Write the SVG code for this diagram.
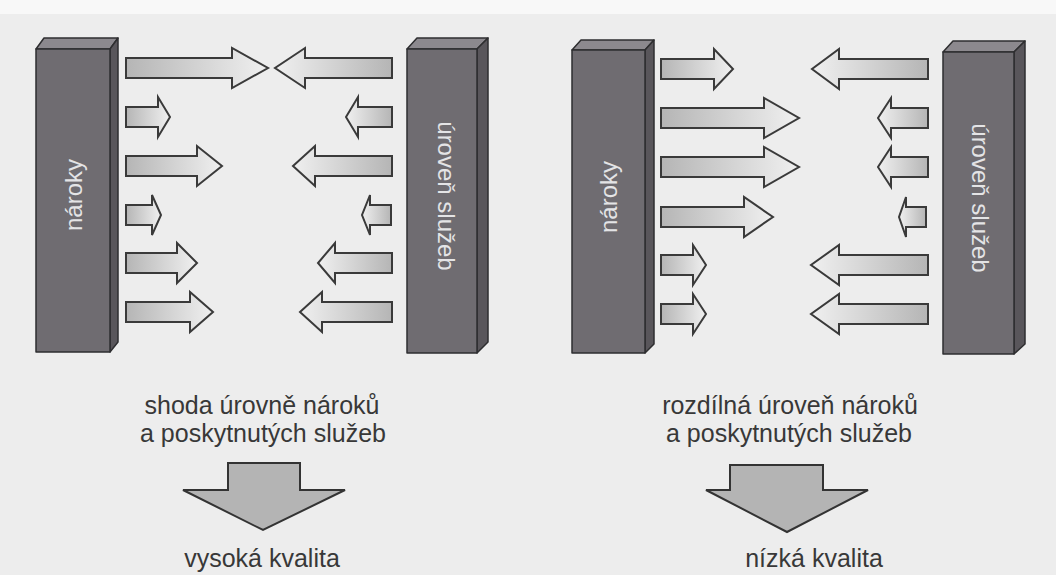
<svg xmlns="http://www.w3.org/2000/svg" width="1056" height="575" viewBox="0 0 1056 575">
<style>
.front{fill:#6f6c71;stroke:#2e2e30;stroke-width:1.5;stroke-linejoin:round}
.top{fill:#8c898e;stroke:#2e2e30;stroke-width:1.5;stroke-linejoin:round}
.side{fill:#59565b;stroke:#2e2e30;stroke-width:1.5;stroke-linejoin:round}
.ptxt{font-family:"Liberation Sans",Arial,sans-serif;font-size:24px;fill:#e4e4e6;text-anchor:middle}
.ar{fill:url(#gr);stroke:#3a3a3a;stroke-width:2;stroke-linejoin:miter}
.al{fill:url(#gl);stroke:#3a3a3a;stroke-width:2;stroke-linejoin:miter}
.down{fill:#b4b4b4;stroke:#333;stroke-width:2;stroke-linejoin:miter}
.lbl{font-family:"Liberation Sans",Arial,sans-serif;font-size:25px;fill:#383838;text-anchor:middle}
</style>
<defs>
<linearGradient id="gr" x1="0" y1="0" x2="1" y2="0"><stop offset="0" stop-color="#b5b5b5"/><stop offset="1" stop-color="#f0f0f0"/></linearGradient>
<linearGradient id="gl" x1="1" y1="0" x2="0" y2="0"><stop offset="0" stop-color="#b5b5b5"/><stop offset="1" stop-color="#f0f0f0"/></linearGradient>
</defs>
<rect x="0" y="0" width="1056" height="575" fill="#ededed"/>
<rect x="0" y="0" width="1056" height="14" fill="#f8f8f8"/>

<g id="left-naroky">
<polygon class="top" points="36,49 44,38 118,38 110,49"/>
<polygon class="side" points="110,49 118,38 118,342 110,352"/>
<rect class="front" x="36" y="49" width="74" height="303"/>
<text class="ptxt" transform="translate(82,195) rotate(-90)">nároky</text>
</g>
<g id="left-uroven">
<polygon class="top" points="407,49 417,38 488,38 477,49"/>
<polygon class="side" points="477,49 488,38 488,342 477,353"/>
<rect class="front" x="407" y="49" width="70" height="304"/>
<text class="ptxt" transform="translate(438,196) rotate(90)">úroveň služeb</text>
</g>
<g id="right-naroky">
<polygon class="top" points="572,50 581,40 654,40 645,50"/>
<polygon class="side" points="645,50 654,40 654,344 645,353"/>
<rect class="front" x="572" y="50" width="73" height="303"/>
<text class="ptxt" transform="translate(617,197) rotate(-90)">nároky</text>
</g>
<g id="right-uroven">
<polygon class="top" points="943,52 953,41 1025,41 1014,52"/>
<polygon class="side" points="1014,52 1025,41 1025,344 1014,354"/>
<rect class="front" x="943" y="52" width="71" height="302"/>
<text class="ptxt" transform="translate(972,198) rotate(90)">úroveň služeb</text>
</g>

<g id="connectors">
<path class="ar" d="M126,58H232V48L268,68L232,88V78H126Z"/>
<path class="al" d="M392,58H305V48L275,68L305,88V78H392Z"/>
<path class="ar" d="M126,107H158V97L170,117L158,137V127H126Z"/>
<path class="al" d="M392,107H358V97L346,117L358,137V127H392Z"/>
<path class="ar" d="M126,156H197V146L222,166L197,186V176H126Z"/>
<path class="al" d="M392,156H315V146L293,166L315,186V176H392Z"/>
<path class="ar" d="M126,205H152V195L161,215L152,235V225H126Z"/>
<path class="al" d="M391,205H370V195L362,215L370,235V225H391Z"/>
<path class="ar" d="M126,253H177V243L197,263L177,283V273H126Z"/>
<path class="al" d="M392,253H335V243L318,263L335,283V273H392Z"/>
<path class="ar" d="M126,302H190V292L213,312L190,332V322H126Z"/>
<path class="al" d="M392,302H322V292L300,312L322,332V322H392Z"/>

<path class="ar" d="M661,59H714V49L733,69L714,89V79H661Z"/>
<path class="al" d="M928,59H839V49L812,69L839,89V79H928Z"/>
<path class="ar" d="M661,108H764V98L799,118L764,138V128H661Z"/>
<path class="al" d="M928,108H891V98L878,118L891,138V128H928Z"/>
<path class="ar" d="M661,157H764V147L799,167L764,187V177H661Z"/>
<path class="al" d="M928,157H891V147L878,167L891,187V177H928Z"/>
<path class="ar" d="M661,207H744V197L773,217L744,237V227H661Z"/>
<path class="al" d="M926,207H906V197L899,217L906,237V227H926Z"/>
<path class="ar" d="M661,255H693V245L706,265L693,285V275H661Z"/>
<path class="al" d="M928,255H839V245L811,265L839,285V275H928Z"/>
<path class="ar" d="M661,304H693V294L706,314L693,334V324H661Z"/>
<path class="al" d="M928,304H839V294L811,314L839,334V324H928Z"/>

<path class="down" d="M228,463H300V490H345L263,530L183,490H228Z"/>
<path class="down" d="M730,465H823V490H868L787,532L706,490H730Z"/>
</g>

<g id="left-caption">
<text class="lbl" x="262" y="414">shoda úrovně nároků</text>
<text class="lbl" x="263" y="442">a poskytnutých služeb</text>
<text class="lbl" x="262" y="567">vysoká kvalita</text>
</g>
<g id="right-caption">
<text class="lbl" x="790" y="414">rozdílná úroveň nároků</text>
<text class="lbl" x="789" y="442">a poskytnutých služeb</text>
<text class="lbl" x="814" y="567">nízká kvalita</text>
</g>
</svg>
